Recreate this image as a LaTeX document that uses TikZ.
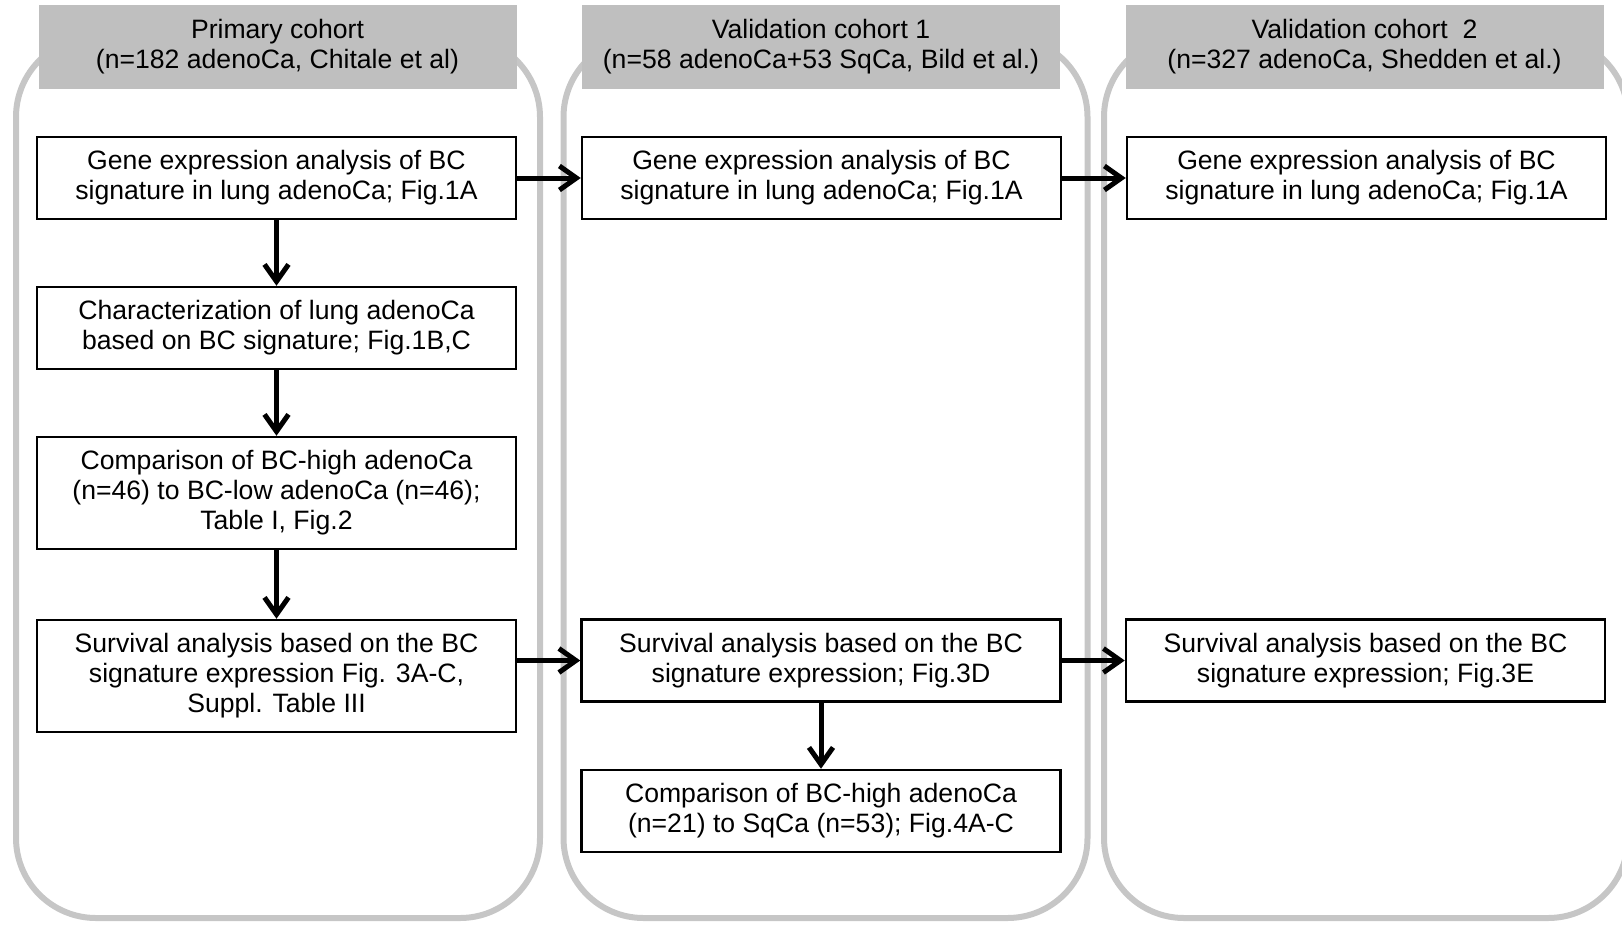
\documentclass[tikz,border=0pt]{standalone}
\usepackage{fontspec}
\setmainfont{Liberation Sans}
\usetikzlibrary{arrows.meta,positioning}
\definecolor{hdrgray}{RGB}{191,191,191}
\definecolor{frmgray}{RGB}{198,198,198}
\tikzset{
  frame/.style={draw=frmgray,line width=6pt,rounded corners=80pt,minimum width=524pt,minimum height=881pt,inner sep=0pt},
  hdr/.style={fill=hdrgray,minimum width=478pt,minimum height=84pt,align=center,inner sep=0pt},
  box/.style={draw=black,line width=2.5pt,fill=white,minimum width=479pt,minimum height=82pt,align=center,inner sep=0pt},
  tall/.style={box,minimum height=112pt},
  ar/.style={-{Straight Barb[length=17pt,width=24pt]},line width=5pt},
}

\begin{document}
\begin{tikzpicture}[x=1pt,y=-1pt,font=\fontsize{26.6}{30}\selectfont]
\clip (0,0) rectangle (1622,924);
\node[frame] (f1) at (278,477.5) {};
\node[frame] (f2) at (825.5,477.5) {};
\node[frame] (f3) at (1366,477.5) {};
\node[hdr] (h1) at (277.5,47) {Primary cohort\\(n=182 adenoCa, Chitale et al)};
\node[hdr] (h2) at (821,47) {Validation cohort 1\\(n=58 adenoCa+53 SqCa, Bild et al.)};
\node[hdr] (h3) at (1364.5,47) {Validation cohort\ \ 2\\(n=327 adenoCa, Shedden et al.)};
\node[box] (p1) at (276.5,178) {Gene expression analysis of BC\\signature in lung adenoCa; Fig.1A};
\node[box,below=65.5pt of p1] (p2) {Characterization of lung adenoCa\\based on BC signature; Fig.1B,C};
\node[tall,below=65.5pt of p2] (p3) {Comparison of BC-high adenoCa\\(n=46) to BC-low adenoCa (n=46);\\Table I, Fig.2};
\node[tall,below=68.5pt of p3] (p4) {Survival analysis based on the BC\\signature expression Fig. 3A-C,\\Suppl. Table III};
\node[box,right=63.5pt of p1] (a1) {Gene expression analysis of BC\\signature in lung adenoCa; Fig.1A};
\node[box] (a2) at (821,660.5) {Survival analysis based on the BC\\signature expression; Fig.3D};
\node[box,below=66pt of a2] (a3) {Comparison of BC-high adenoCa\\(n=21) to SqCa (n=53); Fig.4A-C};
\node[box,right=63.5pt of a1] (b1) {Gene expression analysis of BC\\signature in lung adenoCa; Fig.1A};
\node[box,right=63pt of a2] (b2) {Survival analysis based on the BC\\signature expression; Fig.3E};
\draw[ar] (p1) -- (a1);
\draw[ar] (a1) -- (b1);
\draw[ar] (p1) -- (p2);
\draw[ar] (p2) -- (p3);
\draw[ar] (p3) -- (p4);
\draw[ar] (p4.east |- a2) -- (a2);
\draw[ar] (a2) -- (b2);
\draw[ar] (a2) -- (a3);
\end{tikzpicture}
\end{document}
